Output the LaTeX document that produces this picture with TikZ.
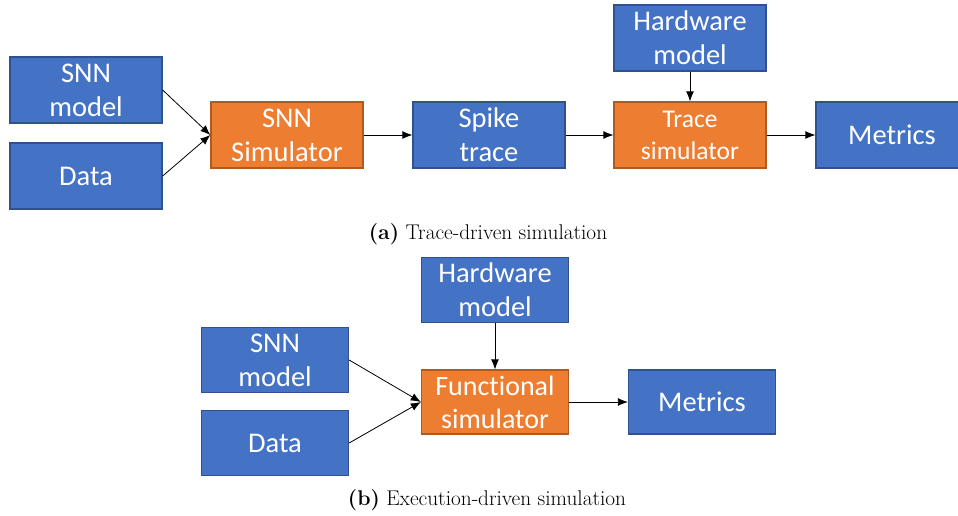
\documentclass[tikz,border=0pt]{standalone}
\usepackage{fontspec}
\newfontfamily\boxfont[Ligatures={NoCommon}]{Carlito}
\usetikzlibrary{arrows.meta}
\definecolor{bfill}{HTML}{4472C4}
\definecolor{bdraw}{HTML}{2F528F}
\definecolor{ofill}{HTML}{ED7D31}
\definecolor{odraw}{HTML}{AE5A21}
\tikzset{
  base/.style={rectangle, inner sep=0pt, line width=1.3pt, text=white, align=center,
    font=\boxfont\fontsize{28.5}{34}\selectfont},
  bluebox/.style={base, fill=bfill, draw=bdraw},
  orangebox/.style={base, fill=ofill, draw=odraw},
  conn/.style={-{Latex[length=10pt,width=8pt]}, line width=0.8pt, black},
  captext/.style={font=\fontsize{21.3}{25}\selectfont, inner sep=0pt}
}
\begin{document}
\begin{tikzpicture}[x=1pt,y=-1pt]
\useasboundingbox (0,0) rectangle (958,515);
% (a)
\node[bluebox, minimum width=152pt, minimum height=66pt] (snna) at (86,90) {SNN\\model};
\node[bluebox, minimum width=152pt, minimum height=66pt] (dataa) at (86,176) {Data};
\node[orangebox, minimum width=152pt, minimum height=66pt] (sima) at (287,135) {SNN\\Simulator};
\node[bluebox, minimum width=152pt, minimum height=66pt] (spike) at (489,135) {Spike\\trace};
\node[bluebox, minimum width=152pt, minimum height=66pt] (hwa) at (690,38) {Hardware\\model};
\node[orangebox, minimum width=152pt, minimum height=66pt, font=\boxfont\fontsize{25.5}{32}\selectfont] (trace) at (690,135) {Trace\\simulator};
\node[bluebox, minimum width=152pt, minimum height=66pt] (meta) at (892,135) {Metrics};
\draw[conn] (snna.east) -- (sima.west);
\draw[conn] (dataa.east) -- (sima.west);
\draw[conn] (sima) -- (spike);
\draw[conn] (spike) -- (trace);
\draw[conn] (hwa) -- (trace);
\draw[conn] (trace) -- (meta);
\node[captext] (capa) at (488,234) {\textbf{(a)} Trace-driven simulation};
% (b)
\node[bluebox, minimum width=147pt, minimum height=65pt] (hwb) at (495,290) {Hardware\\model};
\node[bluebox, minimum width=147pt, minimum height=65pt] (snnb) at (275,360) {SNN\\model};
\node[bluebox, minimum width=147pt, minimum height=65pt] (datab) at (275,443) {Data};
\node[orangebox, minimum width=147pt, minimum height=64pt, font=\boxfont\fontsize{28}{33}\selectfont] (func) at (495,402) {Functional\\simulator};
\node[bluebox, minimum width=147pt, minimum height=64pt] (metb) at (702,402) {Metrics};
\draw[conn] (snnb.east) -- (func.west);
\draw[conn] (datab.east) -- (func.west);
\draw[conn] (hwb) -- (func);
\draw[conn] (func) -- (metb);
\node[captext] (capb) at (487,500) {\textbf{(b)} Execution-driven simulation};
\end{tikzpicture}
\end{document}
